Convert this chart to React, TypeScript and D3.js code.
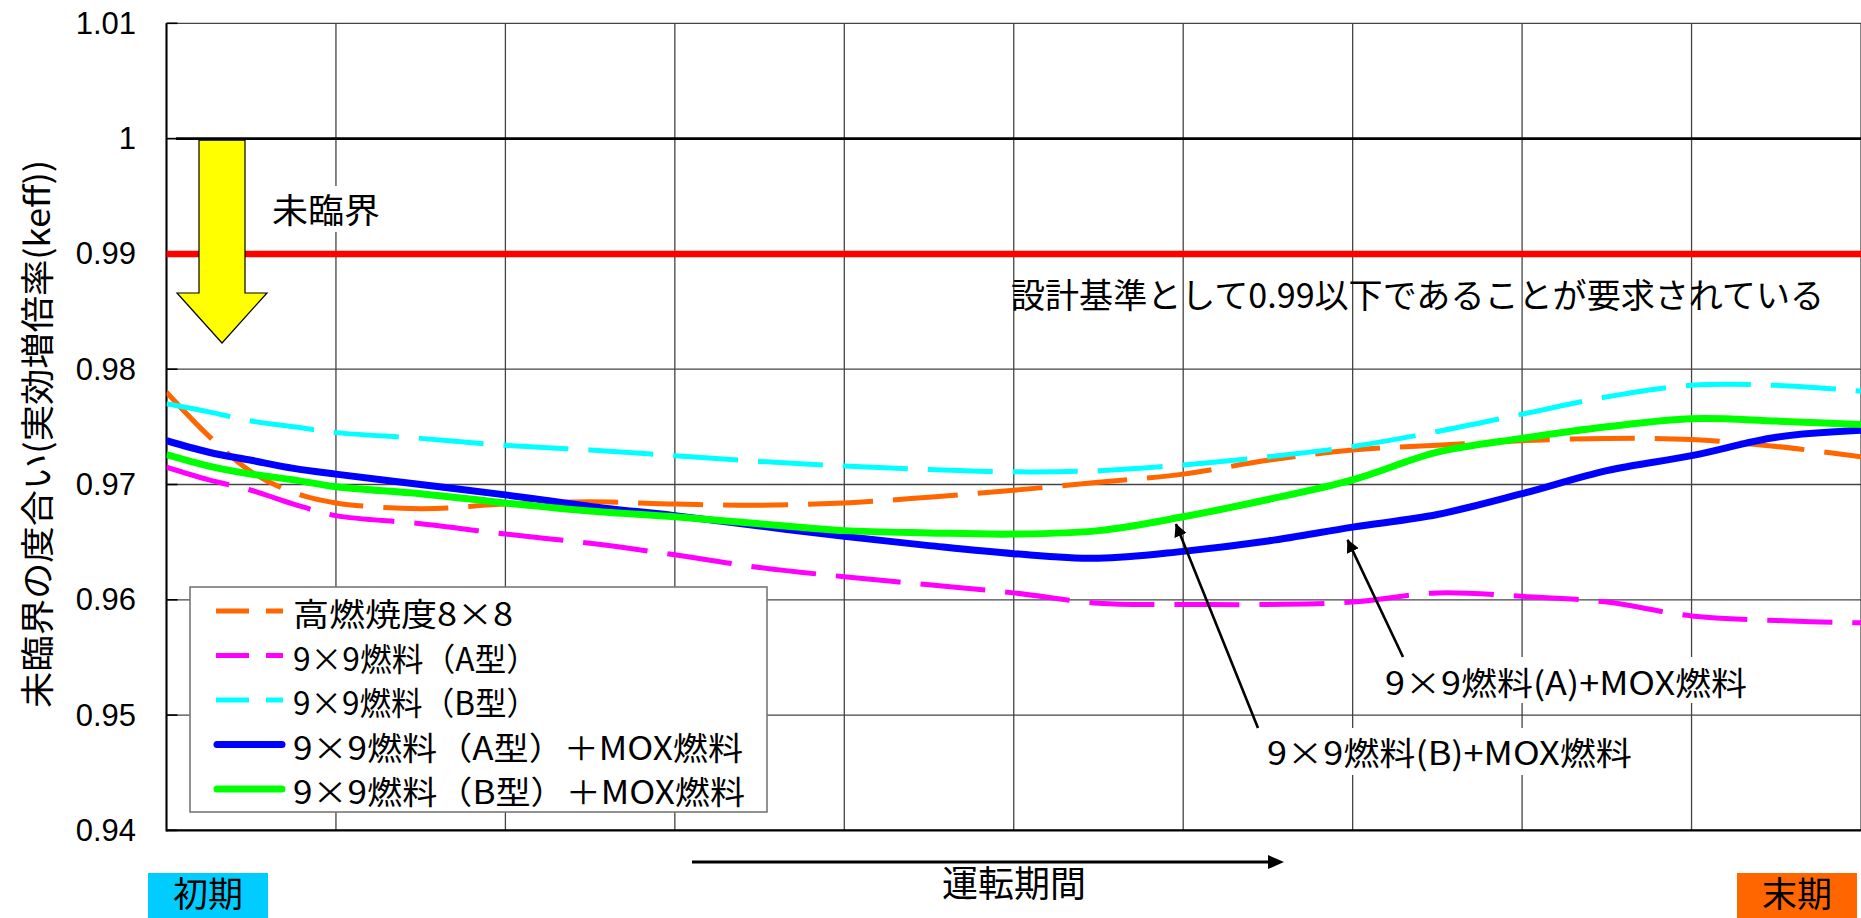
import React from "react";
import * as d3 from "d3";

// Operating period, in grid intervals from start (初期) to end (末期) of cycle
const steps = [0, 0.25, 0.5, 0.75, 1, 1.5, 2, 2.5, 3, 3.5, 4, 4.5, 5, 5.5, 6, 6.5, 7, 7.5, 8, 8.5, 9, 9.5, 10];

// keff of the spent fuel storage racks for each fuel loading
const highBurnup8x8 = [0.978, 0.9742, 0.9711, 0.9693, 0.9684, 0.9679, 0.9683, 0.9685, 0.9683, 0.9682, 0.9684, 0.9689, 0.9695, 0.9702, 0.9709, 0.9721, 0.973, 0.9734, 0.9738, 0.974, 0.9739, 0.9733, 0.9724];
const fuel9x9A = [0.9715, 0.9704, 0.9695, 0.9683, 0.9673, 0.9666, 0.9657, 0.9649, 0.9639, 0.9628, 0.962, 0.9613, 0.9606, 0.9597, 0.9596, 0.9596, 0.9598, 0.9606, 0.9603, 0.9598, 0.9586, 0.9582, 0.958];
const fuel9x9B = [0.977, 0.9763, 0.9755, 0.975, 0.9745, 0.974, 0.9734, 0.973, 0.9725, 0.972, 0.9716, 0.9713, 0.9711, 0.9712, 0.9717, 0.9724, 0.9733, 0.9746, 0.9761, 0.9776, 0.9786, 0.9786, 0.9781];
const fuel9x9AMox = [0.9738, 0.9728, 0.9721, 0.9714, 0.9709, 0.97, 0.9691, 0.9681, 0.9673, 0.9664, 0.9655, 0.9647, 0.964, 0.9636, 0.9642, 0.9651, 0.9663, 0.9674, 0.9692, 0.9712, 0.9725, 0.9741, 0.9747];
const fuel9x9BMox = [0.9726, 0.9716, 0.9709, 0.9704, 0.9698, 0.9692, 0.9684, 0.9677, 0.9672, 0.9666, 0.966, 0.9658, 0.9657, 0.966, 0.9672, 0.9687, 0.9704, 0.9728, 0.974, 0.975, 0.9757, 0.9755, 0.9752];

const seriesNames = [
  "高燃焼度8×8",
  "9×9燃料（A型）",
  "9×9燃料（B型）",
  "9×9燃料（A型）＋MOX燃料",
  "9×9燃料（B型）＋MOX燃料",
];
const seriesColors = ["#FF6600", "#FF00FF", "#00FFFF", "#0000FF", "#00FF00"];
const seriesDashed = [true, true, true, false, false];
const seriesValues = [highBurnup8x8, fuel9x9A, fuel9x9B, fuel9x9AMox, fuel9x9BMox];

const yTicks = [0.94, 0.95, 0.96, 0.97, 0.98, 0.99, 1, 1.01];
const yTickLabels = ["0.94", "0.95", "0.96", "0.97", "0.98", "0.99", "1", "1.01"];
const xGrid = [0, 1, 2, 3, 4, 5, 6, 7, 8, 9, 10];

const criticalLimit = 1;
const designLimit = 0.99;

// Callouts pointing at the MOX curves: [step, keff] of the arrow tip
const calloutA = { text: "9×9燃料(A)+MOX燃料", tip: [6.97, 0.9652] };
const calloutB = { text: "9×9燃料(B)+MOX燃料", tip: [5.957, 0.96657] };

const W = 1861;
const H = 918;
const plot = { left: 166.5, right: 1861, top: 23.3, bottom: 830.4 };
const JP = "'Noto Sans CJK JP', 'Noto Sans', sans-serif";
const NUM = "'Liberation Sans', Arial, sans-serif";

export default function App() {
  const x = d3.scaleLinear().domain([0, 10]).range([plot.left, plot.right]);
  const y = d3.scaleLinear().domain([0.94, 1.01]).range([plot.bottom, plot.top]);

  const line = d3
    .line<number>()
    .x((_, i) => x(steps[i]))
    .y((d) => y(d))
    .curve(d3.curveCatmullRom.alpha(0.5));

  const yLimit = y(designLimit);
  const yCrit = y(criticalLimit);

  // yellow "subcritical" arrow
  const arrowPts: [number, number][] = [
    [199, yCrit + 1.5],
    [245, yCrit + 1.5],
    [245, 293],
    [267, 293],
    [222, 343],
    [177, 293],
    [199, 293],
  ];

  const legend = { x: 190, y: 587, w: 577, h: 225 };
  const legendRow0 = 611;
  const legendRowGap = 44.5;
  const legendTextLen = [220, 245, 245, 450, 452];

  const tipA = [x(calloutA.tip[0]), y(calloutA.tip[1])];
  const tipB = [x(calloutB.tip[0]), y(calloutB.tip[1])];

  return (
    <svg
      width={W}
      height={H}
      style={{ position: "absolute", left: 0, top: 0, background: "#fff" }}
    >
      <defs>
        <marker id="ah" viewBox="0 0 10 10" refX="9.5" refY="5" markerWidth="5" markerHeight="5.5" orient="auto" markerUnits="strokeWidth">
          <path d="M0,0 L10,5 L0,10 z" fill="#000" />
        </marker>
        <clipPath id="plotClip">
          <rect x={plot.left} y={plot.top - 5} width={plot.right - plot.left} height={plot.bottom - plot.top + 10} />
        </clipPath>
      </defs>
      <rect x={0} y={0} width={W} height={H} fill="#fff" />

      {/* gridlines */}
      {yTicks.map((t) => (
        <line key={"gy" + t} x1={plot.left} x2={plot.right} y1={y(t)} y2={y(t)} stroke="#444" strokeWidth={1.3} />
      ))}
      {xGrid.map((t) => (
        <line key={"gx" + t} x1={x(t)} x2={x(t)} y1={plot.top} y2={plot.bottom} stroke="#444" strokeWidth={1.3} />
      ))}
      {/* inner tick marks */}
      {yTicks.map((t) => (
        <line key={"ty" + t} x1={plot.left} x2={plot.left + 11} y1={y(t)} y2={y(t)} stroke="#000" strokeWidth={1.6} />
      ))}
      {/* axes */}
      <line x1={plot.left} x2={plot.left} y1={plot.top} y2={plot.bottom + 1} stroke="#000" strokeWidth={2} />
      <line x1={plot.left} x2={plot.right} y1={plot.bottom} y2={plot.bottom} stroke="#000" strokeWidth={2.2} />

      {/* y tick labels */}
      {yTicks.map((t, i) => (
        <text key={"ly" + t} x={136} y={y(t)} textAnchor="end" dominantBaseline="central" fontFamily={NUM} fontSize={31} fill="#000">
          {yTickLabels[i]}
        </text>
      ))}

      {/* y axis title */}
      <text
        transform={`translate(35,434) rotate(-90)`}
        textAnchor="middle"
        dominantBaseline="central"
        fontFamily={JP}
        fontSize={34}
        textLength={548}
        lengthAdjust="spacingAndGlyphs"
        fill="#000"
      >
        未臨界の度合い(実効増倍率(keff))
      </text>

      {/* design criterion and critical lines */}
      <line x1={plot.left} x2={plot.right} y1={yLimit} y2={yLimit} stroke="#FF0000" strokeWidth={6.5} />
      <line x1={176} x2={plot.right} y1={yCrit} y2={yCrit} stroke="#000" strokeWidth={2.6} />

      {/* series */}
      <g clipPath="url(#plotClip)">
        {seriesValues.map((vals, i) => (
          <path
            key={"s" + i}
            d={line(vals) || ""}
            fill="none"
            stroke={seriesColors[i]}
            strokeWidth={seriesDashed[i] ? 5 : 7}
            strokeDasharray={seriesDashed[i] ? "65 20" : undefined}
            strokeLinejoin="round"
          />
        ))}
      </g>

      {/* legend */}
      <rect x={legend.x} y={legend.y} width={legend.w} height={legend.h} fill="#fff" stroke="#777" strokeWidth={1.6} />
      {seriesNames.map((name, i) => {
        const cy = legendRow0 + i * legendRowGap;
        return (
          <g key={"lg" + i}>
            {seriesDashed[i] ? (
              <line x1={216} x2={283} y1={cy} y2={cy} stroke={seriesColors[i]} strokeWidth={5} strokeDasharray="33 17" />
            ) : (
              <line x1={217} x2={282} y1={cy} y2={cy} stroke={seriesColors[i]} strokeWidth={7} strokeLinecap="round" />
            )}
            <text
              x={293}
              y={cy + 1}
              dominantBaseline="central"
              fontFamily={JP}
              fontSize={32}
              textLength={legendTextLen[i]}
              lengthAdjust="spacingAndGlyphs"
              fill="#000"
            >
              {name}
            </text>
          </g>
        );
      })}

      {/* subcritical arrow */}
      <polygon points={arrowPts.map((p) => p.join(",")).join(" ")} fill="#FFFF00" stroke="#000" strokeWidth={1.2} />
      <rect x={268} y={186} width={116} height={46} fill="#fff" />
      <text x={272} y={208} dominantBaseline="central" fontFamily={JP} fontSize={34} textLength={108} lengthAdjust="spacingAndGlyphs" fill="#000">
        未臨界
      </text>

      <text x={1011} y={293} dominantBaseline="central" fontFamily={JP} fontSize={34} textLength={813} lengthAdjust="spacingAndGlyphs" fill="#000">
        設計基準として0.99以下であることが要求されている
      </text>

      {/* callouts */}
      <rect x={1380} y={657} width={371} height={46} fill="#fff" />
      <text x={1385} y={681} dominantBaseline="central" fontFamily={JP} fontSize={32} textLength={362} lengthAdjust="spacingAndGlyphs" fill="#000">
        {calloutA.text}
      </text>
      <line x1={1403} y1={657} x2={tipA[0]} y2={tipA[1]} stroke="#000" strokeWidth={2.6} markerEnd="url(#ah)" />

      <rect x={1262} y={728} width={374} height={47} fill="#fff" />
      <text x={1267} y={751} dominantBaseline="central" fontFamily={JP} fontSize={32} textLength={365} lengthAdjust="spacingAndGlyphs" fill="#000">
        {calloutB.text}
      </text>
      <line x1={1258} y1={728} x2={tipB[0]} y2={tipB[1]} stroke="#000" strokeWidth={2.6} markerEnd="url(#ah)" />

      {/* operating period arrow */}
      <line x1={692} x2={1270} y1={862} y2={862} stroke="#000" strokeWidth={3} />
      <polygon points="1268,855 1284,862 1268,869" fill="#000" />
      <text x={1014} y={881} textAnchor="middle" dominantBaseline="central" fontFamily={JP} fontSize={36} fill="#000">
        運転期間
      </text>

      {/* start / end of cycle markers */}
      <rect x={148} y={873} width={120} height={H - 873} fill="#00CCFF" />
      <text x={208} y={891} textAnchor="middle" dominantBaseline="central" fontFamily={JP} fontSize={35} fill="#000">
        初期
      </text>
      <rect x={1737} y={873} width={120} height={H - 873} fill="#FF6600" />
      <text x={1797} y={891} textAnchor="middle" dominantBaseline="central" fontFamily={JP} fontSize={35} fill="#000">
        末期
      </text>
    </svg>
  );
}
